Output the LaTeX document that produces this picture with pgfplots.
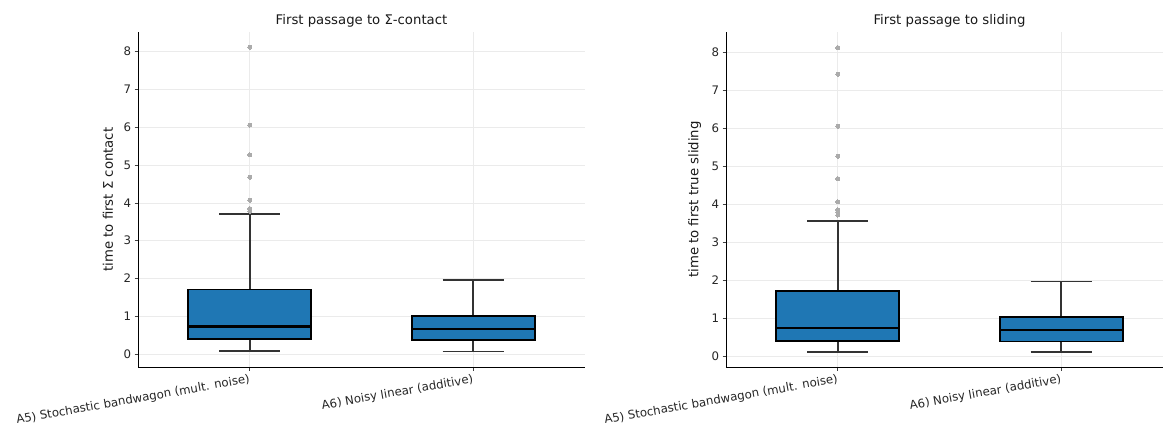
\documentclass[border=0pt]{standalone}
\usepackage{pgfplots}
\pgfplotsset{compat=1.18}
\usepgfplotslibrary{statistics}
\usepackage{fontspec}
\setmainfont{DejaVu Sans}

\definecolor{boxblue}{HTML}{1F77B4}
\definecolor{gridgray}{HTML}{EBEBEB}
\definecolor{fliergray}{HTML}{ABABAB}
\definecolor{whiskgray}{HTML}{333333}

\pgfplotsset{
  panel/.style={
    width=447bp, height=335bp, scale only axis,
    axis lines=left,
    axis line style={-, line width=1bp, black},
    xmin=-0.5, xmax=1.5,
    xtick={0,1},
    xticklabels={A5) Stochastic bandwagon (mult. noise), A6) Noisy linear (additive)},
    ytick={0,1,...,8},
    grid=major,
    major grid style={gridgray, line width=0.8bp},
    tick align=outside,
    major tick length=3.5bp,
    tick style={black!75, line width=0.8bp},
    /pgf/number format/assume math mode=true,
    x tick label style={rotate=10, anchor=north east, inner sep=1.5bp,
      yshift=-1.5bp, font=\fontsize{11.8}{13}\selectfont, text=black!85},
    y tick label style={font=\fontsize{11.8}{13}\selectfont, text=black!85},
    title style={font=\fontsize{13.3}{15}\selectfont, text=black!90,
      yshift=-5bp},
    ylabel style={font=\fontsize{13.3}{15}\selectfont, text=black!90,
      at={(axis description cs:-0.048,0.5)}, anchor=south},
  },
  bx/.style={
    draw=whiskgray, line width=1.7bp,
    mark=*, mark size=2bp,
    mark options={fill=fliergray, draw=fliergray, line width=0pt},
    boxplot/draw direction=y,
    boxplot/box extend=0.55,
    boxplot/whisker extend=0.275,
    boxplot/every box/.style={fill=boxblue, draw=black, line width=1.7bp},
    boxplot/every whisker/.style={draw=whiskgray, line width=1.7bp},
    boxplot/every median/.style={draw=black, line width=2.2bp},
  },
}

\begin{document}
\begin{tikzpicture}[x=1bp, y=1bp]

% Panel 1: first passage to the switching surface
\begin{axis}[panel, at={(138bp,60bp)}, anchor=south west,
  ymin=-0.34, ymax=8.52,
  title={First passage to Σ-contact},
  ylabel={time to first Σ contact}]
\addplot[bx, boxplot prepared={draw position=0,
  lower whisker=0.09, lower quartile=0.40, median=0.73,
  upper quartile=1.71, upper whisker=3.70}]
  coordinates {(0,8.12) (0,6.06) (0,5.27) (0,4.68) (0,4.07) (0,3.85) (0,3.78)};
\addplot[bx, boxplot prepared={draw position=1,
  lower whisker=0.07, lower quartile=0.37, median=0.67,
  upper quartile=1.01, upper whisker=1.97}]
  coordinates {};
\end{axis}

% Panel 2: first passage to true sliding
\begin{axis}[panel, at={(726bp,60bp)}, anchor=south west,
  ymin=-0.28, ymax=8.54,
  title={First passage to sliding},
  ylabel={time to first true sliding}]
\addplot[bx, boxplot prepared={draw position=0,
  lower whisker=0.11, lower quartile=0.41, median=0.74,
  upper quartile=1.72, upper whisker=3.56}]
  coordinates {(0,8.13) (0,7.43) (0,6.06) (0,5.27) (0,4.68) (0,4.07) (0,3.86) (0,3.80) (0,3.72)};
\addplot[bx, boxplot prepared={draw position=1,
  lower whisker=0.11, lower quartile=0.39, median=0.69,
  upper quartile=1.03, upper whisker=1.97}]
  coordinates {};
\end{axis}

\pgfresetboundingbox
\useasboundingbox (0,0) rectangle (1163,427);
\end{tikzpicture}
\end{document}
